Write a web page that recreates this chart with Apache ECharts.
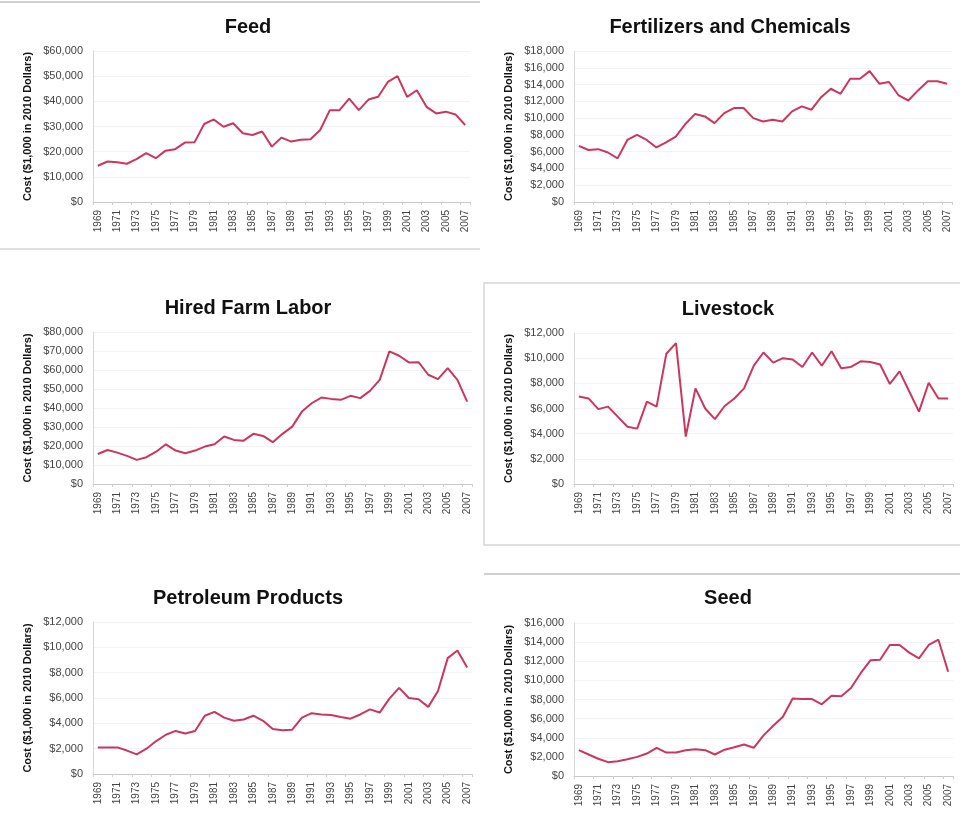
<!DOCTYPE html>
<html>
<head>
<meta charset="utf-8">
<script src="https://cdn.jsdelivr.net/npm/echarts@6/dist/echarts.min.js"></script>
<style>
  html, body { margin: 0; padding: 0; background: #fff; }
  #main { width: 960px; height: 823px; }
</style>
</head>
<body>
<div id="main"></div>
<script>
const years = [];
for (let y = 1969; y <= 2007; y++) years.push(String(y));

const feed = [14.4, 16.1, 15.8, 15.2, 17.0, 19.4, 17.4, 20.4, 21.0, 23.6, 23.7, 31.0, 32.8, 29.9, 31.3, 27.3, 26.6, 28.0, 22.0, 25.6,
  24.0, 24.7, 24.9, 28.6, 36.5, 36.5, 41.1, 36.5, 40.7, 41.8, 47.7, 50.0, 41.8, 44.4, 37.8, 35.2, 35.9, 34.8, 30.6];
const fertilizers = [6.7, 6.2, 6.3, 5.9, 5.2, 7.4, 8.0, 7.4, 6.5, 7.1, 7.8, 9.3, 10.5, 10.2, 9.4, 10.6, 11.2, 11.2, 10.0, 9.6,
  9.8, 9.6, 10.8, 11.4, 11.0, 12.5, 13.5, 12.9, 14.7, 14.7, 15.6, 14.1, 14.3, 12.7, 12.1, 13.3, 14.4, 14.4, 14.1];
const labor = [15.8, 17.9, 16.5, 14.8, 12.7, 14.1, 17.0, 20.9, 17.6, 16.2, 17.6, 19.7, 20.9, 25.0, 23.2, 22.8, 26.4, 25.3, 22.0, 26.4,
  30.2, 38.1, 42.5, 45.5, 44.8, 44.3, 46.4, 45.2, 49.0, 54.8, 69.8, 67.5, 64.0, 64.1, 57.5, 55.2, 61.0, 54.8, 43.4];
const livestock = [6.95, 6.8, 5.95, 6.15, 5.35, 4.55, 4.4, 6.55, 6.15, 10.35, 11.2, 3.77, 7.6, 6.0, 5.15, 6.2, 6.8, 7.6, 9.4, 10.45,
  9.65, 10.0, 9.9, 9.3, 10.45, 9.4, 10.55, 9.2, 9.3, 9.75, 9.7, 9.5, 7.95, 8.95, 7.35, 5.75, 8.05, 6.8, 6.8];
const petroleum = [2.1, 2.1, 2.1, 1.85, 1.55, 2.0, 2.6, 3.1, 3.4, 3.2, 3.4, 4.6, 4.9, 4.45, 4.2, 4.3, 4.6, 4.2, 3.55, 3.45,
  3.5, 4.45, 4.8, 4.7, 4.65, 4.5, 4.37, 4.7, 5.1, 4.85, 5.95, 6.8, 6.0, 5.9, 5.3, 6.55, 9.15, 9.75, 8.4];
const seed = [2.7, 2.25, 1.8, 1.45, 1.55, 1.75, 2.0, 2.35, 2.95, 2.45, 2.45, 2.7, 2.8, 2.7, 2.25, 2.75, 3.0, 3.3, 2.95, 4.25,
  5.25, 6.2, 8.1, 8.05, 8.05, 7.5, 8.4, 8.35, 9.2, 10.75, 12.1, 12.15, 13.7, 13.7, 12.9, 12.3, 13.7, 14.25, 10.9];

const panelTitles = ["Feed", "Fertilizers and Chemicals", "Hired Farm Labor", "Livestock", "Petroleum Products", "Seed"];
const panelData = [feed, fertilizers, labor, livestock, petroleum, seed];
const yMax = [60000, 18000, 80000, 12000, 12000, 16000];
const yStep = [10000, 2000, 10000, 2000, 2000, 2000];
const yName = "Cost ($1,000 in 2010 Dollars)";

// grid boxes: left, top, width, height
const boxes = [
  [93, 51, 377, 151],
  [574, 51, 378, 151],
  [93, 332, 379, 152],
  [574, 333, 379, 151],
  [93, 622, 379, 152],
  [574, 623, 379, 153]
];
const titleCenters = [[243, 12], [725, 12], [243, 293], [723, 294], [243, 583], [723, 583]];

const font = "Liberation Sans, Arial, sans-serif";
const money = (v) => "$" + v.toLocaleString("en-US");

const option = {
  animation: false,
  backgroundColor: "#fff",
  title: panelTitles.map((t, i) => ({
    text: t,
    left: titleCenters[i][0],
    top: titleCenters[i][1],
    textAlign: "center",
    textStyle: { fontFamily: font, fontSize: 20, fontWeight: "bold", color: "#111" }
  })),
  grid: boxes.map(([l, t, w, h]) => ({ left: l, top: t, width: w, height: h })),
  xAxis: boxes.map((b, i) => ({
    type: "category",
    gridIndex: i,
    data: years,
    boundaryGap: true,
    axisLine: { lineStyle: { color: "#c8c8c8", width: 1 } },
    axisTick: { show: true, interval: 1, length: 3, lineStyle: { color: "#d0d0d0" } },
    axisLabel: {
      interval: 1,
      rotate: 90,
      margin: 8,
      fontFamily: font,
      fontSize: 10,
      color: "#444"
    },
    splitLine: { show: false }
  })),
  yAxis: boxes.map((b, i) => ({
    type: "value",
    gridIndex: i,
    min: 0,
    max: yMax[i],
    interval: yStep[i],
    name: yName,
    nameLocation: "middle",
    nameRotate: 90,
    nameGap: 60,
    nameTextStyle: { fontFamily: font, fontSize: 11, fontWeight: "bold", color: "#111" },
    axisLine: { show: true, lineStyle: { color: "#d8d8d8", width: 1 } },
    axisTick: { show: false },
    axisLabel: {
      margin: 10,
      fontFamily: font,
      fontSize: 11,
      color: "#444",
      formatter: money
    },
    splitLine: { show: true, lineStyle: { color: "#f3f3f3", width: 1 } }
  })),
  series: panelData.map((d, i) => ({
    type: "line",
    xAxisIndex: i,
    yAxisIndex: i,
    data: d.map((v) => Math.round(v * 1000)),
    symbol: "none",
    smooth: false,
    lineStyle: { color: "#C8385E", width: 2 }
  })),
  graphic: [
    { type: "line", shape: { x1: 0, y1: 2, x2: 480, y2: 2 }, style: { stroke: "#d0d0d0", lineWidth: 2 } },
    { type: "line", shape: { x1: 0, y1: 249, x2: 480, y2: 249 }, style: { stroke: "#e0e0e0", lineWidth: 2 } },
    { type: "rect", shape: { x: 484, y: 283, width: 480, height: 262 }, style: { fill: "none", stroke: "#d6d6d6", lineWidth: 1.5 } },
    { type: "line", shape: { x1: 484, y1: 574, x2: 960, y2: 574 }, style: { stroke: "#cfcfcf", lineWidth: 2 } }
  ]
};

const myChart = echarts.init(document.getElementById("main"));
myChart.setOption(option);
</script>
</body>
</html>
